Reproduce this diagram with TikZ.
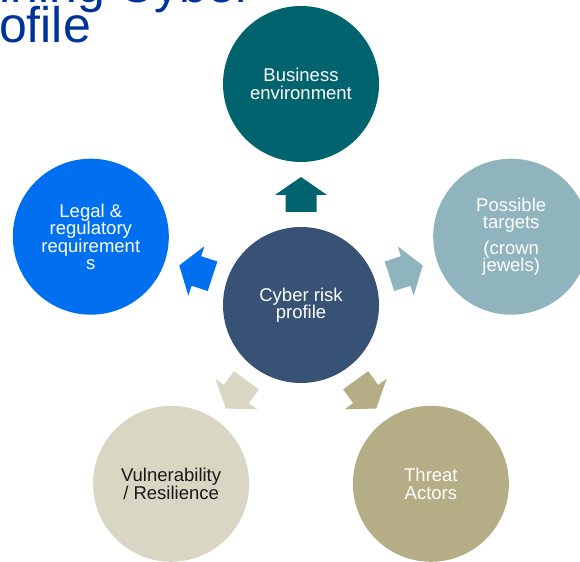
\documentclass[tikz,border=0pt]{standalone}
\usepackage{fontspec}
\setmainfont{Liberation Sans}
\usetikzlibrary{calc}
\definecolor{deckblue}{HTML}{003399}
\definecolor{coreblue}{HTML}{385275}
\definecolor{envteal}{HTML}{00636E}
\definecolor{lawblue}{HTML}{0070F0}
\definecolor{gemgrey}{HTML}{8FB4BD}
\definecolor{actorkhaki}{HTML}{B5AD85}
\definecolor{vulnsand}{HTML}{DAD6C4}
\newcommand\tightlines{\lineskiplimit=-100pt\relax}

\begin{document}
\begin{tikzpicture}[x=1bp, y=1bp,
    hub/.style={circle, minimum size=156bp, inner sep=0pt, align=center, text=white,
      font=\fontsize{18.5bp}{17.5bp}\selectfont\tightlines},
    head/.style={anchor=base west, inner sep=0pt, align=left, text=deckblue,
      font=\fontsize{50bp}{40bp}\selectfont\tightlines}]
  \useasboundingbox (0,0) rectangle (580,562);
  % slide title, cut by the page edge (base = last line)
  \node[head] (title) at (-1,519) {ining Cyber\\ofile};
  % centre and the five satellites
  \node[hub, fill=coreblue] (core) at (301,257) {Cyber risk\\profile};
  \node[hub, fill=envteal] (env) at ($(core)+(90:221)$) {Business\\environment};
  \node[hub, fill=lawblue] (law) at ($(core)+(162:221)$) {Legal \&\\regulatory\\requirement\\s};
  \node[hub, fill=gemgrey] (gems) at ($(core)+(18:221)$) {Possible\\targets\\[8bp](crown\\jewels)};
  \node[hub, fill=actorkhaki] (actors) at ($(core)+(306:221)$) {Threat\\Actors};
  \node[hub, fill=vulnsand, text=black!90] (vuln) at ($(core)+(234:221)$) {Vulnerability\\/ Resilience};
  % block arrows from the centre outwards
  \foreach \ang/\col in {90/envteal, 162/lawblue, 18/gemgrey, 306/actorkhaki, 234/vulnsand}
    \fill[\col, shift={(core.center)}, rotate=\ang]
      (93,-15.5) -- (110,-15.5) -- (110,-26) -- (128,0) -- (110,26) -- (110,15.5) -- (93,15.5) -- cycle;
\end{tikzpicture}
\end{document}
